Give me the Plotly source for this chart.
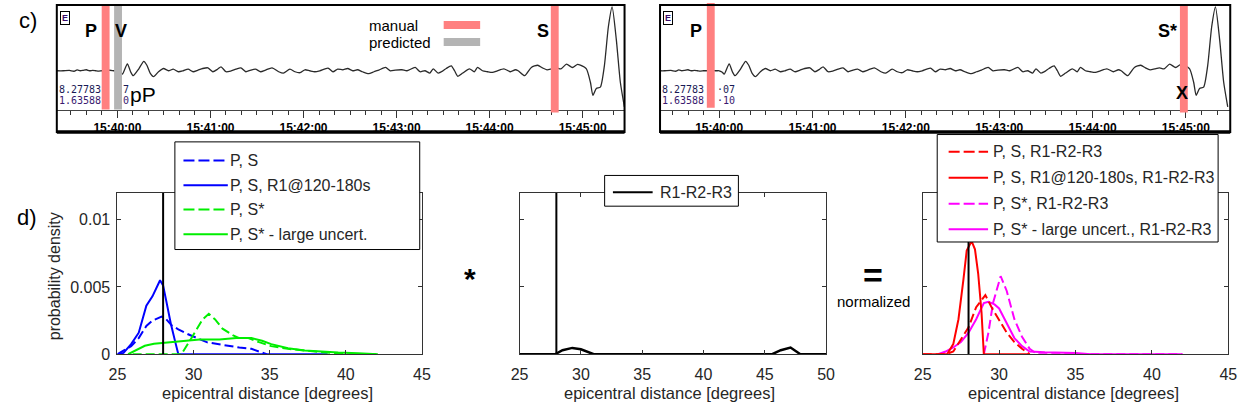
import plotly.graph_objects as go

W, H = 1256, 419


def fx(p):
    return p / W


def fy(p):
    return 1 - p / H


# ============================ data ============================
# seismogram: seconds after 15:40:00 and trace amplitude (arbitrary units)
seis_t = [-39, -35, -31, -28, -26, -24, -22, -20, -18, -16,
          -14, -12, -10, -8, -5, -2, 0, 2, 3.2, 6.4,
          8.5, 10.2, 13.8, 17, 19, 21.2, 23.3, 26.5, 29.7, 32.9,
          36, 39.3, 42.4, 45.6, 48.8, 52, 55, 58.3, 61.5, 64.6,
          66.8, 70, 73, 76.4, 79.6, 82.8, 86, 89, 92.3, 95.5,
          99.7, 104, 107, 111.2, 114.5, 117.7, 120.9, 124, 127.3, 130.5,
          135.8, 139, 142, 145.3, 148.5, 151.7, 154.8, 158, 162, 165.4,
          168.6, 172.9, 176, 179.2, 183.5, 186.7, 192, 195.1, 198.3, 201.5,
          203.6, 206.8, 210, 212, 215.3, 217.4, 219.5, 222.7, 227, 230.1,
          232.2, 235.4, 238.6, 241.8, 245, 249.2, 253.4, 256.6, 258.4, 262.6,
          266.9, 271, 274, 277, 280, 283, 286, 289.6, 293.4, 296.7,
          298.5, 302.4, 305, 306.6, 308.8, 311.4, 314, 316.6, 319, 321.7,
          324.3, 326.9]
seis_amp = [0, 0, 0.3, -0.5, 0.8, 0, 0.5, 1, 0, 0.3,
            0, -0.3, 0, 0, 0.5, 0, 0, -1.5, -3.4, 7,
            -1, -5, 2, 9.6, 5.6, -2.7, -6, -1, 2.3, 0,
            1.6, -1, 0, 1.6, -1, 0.7, 2.3, 3, -1, 1.6,
            4, -1, -0.3, 1.6, 3, -1, 0.7, 1.6, -1, 0.7,
            3, -1, -2.5, 1.7, -1, -2, 1, 0, -1, 0,
            2.7, -1, 1.7, 1, 2.3, 0, 1, -1, -3, -1,
            0.7, 3.4, 0, 0.7, 1, 0, 3.4, -1, 0, -2.3,
            2, -2.3, 0, 2.3, 5, 0, -5.6, -2.3, 2, -1,
            3.4, 0, -1, -1.7, 0, 2, -1, 1, 0, -5,
            3.4, 5.6, 3, 1, 2, 3, 2, 6.7, 3.3, 6.5,
            5.7, 2, -11.7, -25, -18, -16.7, 5, 45, 65, 31.7,
            -11.7, -36.7]

time_tick_s = [0, 60, 120, 180, 240, 300]
time_tick_labels = ["15:40:00", "15:41:00", "15:42:00", "15:43:00", "15:44:00", "15:45:00"]

left_manual_P = -7.6
left_predicted_P = 0.4
left_manual_S = 282.0
right_manual_P = -5.4
right_manual_S_star = 298.7

true_distance = 28.0

# d) left panel: probability densities
ps_x = [25, 25.9, 26.4, 26.9, 27.3, 27.9, 28.2, 28.6, 29.0, 29.6, 30.9, 32.2, 33.0, 33.8, 34.5, 34.8]
ps_y = [0, 0.0006, 0.0012, 0.0021, 0.0025, 0.0028, 0.0026, 0.0021, 0.00185, 0.0015, 0.00088, 0.00063,
        0.0005, 0.0004, 0.00015, 0]
psr1_x = [25, 25.4, 25.9, 26.4, 26.9, 27.3, 27.8, 28.0, 28.2, 28.5, 28.8, 29.0, 38.8]
psr1_y = [0, 0.0001, 0.00075, 0.0016, 0.0036, 0.0043, 0.0055, 0.0051, 0.004, 0.0023, 0.0009, 0, 0]
pss_x = [26.0, 29.2, 29.7, 30.2, 30.6, 31.0, 31.4, 31.9, 32.6, 33.0, 33.6, 34.3, 35.1, 36.2, 37.3, 38.4,
         39.5, 40.1, 42.0]
pss_y = [0, 0, 0.0009, 0.0018, 0.0026, 0.003, 0.0026, 0.0019, 0.0014, 0.0012, 0.0012, 0.0009, 0.0006,
         0.0004, 0.00025, 0.00015, 0.00007, 0, 0]
pssl_x = [25.7, 26.1, 26.8, 27.4, 28.3, 29.3, 30.4, 31.7, 32.8, 33.8, 34.5, 35.1, 36.2, 37.3, 38.4, 39.5,
          40.8, 42.1]
pssl_y = [0, 0.00024, 0.00063, 0.00078, 0.00088, 0.001, 0.0011, 0.0011, 0.0012, 0.0012, 0.001, 0.00075,
          0.00044, 0.00027, 0.00017, 0.00012, 0.00007, 0]

# d) middle panel: R1-R2-R3
r123_x = [25, 27.9, 28.5, 29.3, 30.0, 30.5, 31.05, 45.6, 46.3, 47.1, 47.6, 47.9, 50]
r123_y = [0, 0, 0.0003, 0.00047, 0.00037, 0.0002, 0, 0, 0.0003, 0.0005, 0.0002, 0, 0]

# d) right panel: normalized products
ps_r_x = [25, 26.5, 27.0, 27.5, 28.0, 28.5, 29.1, 29.5, 30.0, 30.5, 31.0, 31.5, 32.0]
ps_r_y = [0, 0, 0.0002, 0.0011, 0.002, 0.0035, 0.0044, 0.0035, 0.0026, 0.0016, 0.0009, 0.0004, 0]
psr1_r_x = [25, 26.6, 27.0, 27.34, 27.66, 27.88, 28.2, 28.42, 28.63, 28.85, 29.0, 32.0]
psr1_r_y = [0, 0, 0.00075, 0.0026, 0.0055, 0.0077, 0.0084, 0.0078, 0.006, 0.0031, 0, 0]
pss_r_x = [29.0, 29.3, 29.6, 30.1, 30.5, 31.0, 31.5, 32.0, 32.5, 42.0]
pss_r_y = [0, 0.0016, 0.0038, 0.0058, 0.0047, 0.0026, 0.0013, 0.0004, 0, 0]
pssl_r_x = [26.0, 26.5, 27.0, 27.5, 28.0, 28.5, 29.0, 29.3, 29.7, 30.0, 30.5, 31.0, 31.5, 32.0, 33.0,
            35.0, 36.0, 42.0]
pssl_r_y = [0, 0.0002, 0.0005, 0.0009, 0.0016, 0.0026, 0.0038, 0.0039, 0.0037, 0.0034, 0.0023, 0.0012,
            0.0006, 0.0002, 0.00015, 0.0001, 0, 0]

dens_ticks = [0, 0.005, 0.01]
dens_tick_labels = ["0", "0.005", "0.01"]
dist_ticks_a = [25, 30, 35, 40, 45]
dist_ticks_b = [25, 30, 35, 40, 45, 50]

legend1_labels = ["P, S", "P, S, R1@120-180s", "P, S*", "P, S* - large uncert."]
legend2_labels = ["R1-R2-R3"]
legend3_labels = ["P, S, R1-R2-R3", "P, S, R1@120-180s, R1-R2-R3", "P, S*, R1-R2-R3",
                  "P, S* - large uncert., R1-R2-R3"]

# ============================ styles / geometry ============================
FONT = "Liberation Sans"
BLUE, GREEN, RED, MAG = "#0000ff", "#00ee00", "#ff0000", "#ff00ff"
DASH = "9px,4px"
PICK_RED = "rgb(255,128,128)"
PICK_GRAY = "rgb(180,180,180)"
TEXT_GRAY = "#262626"

# seismogram frames (px)
TL_X0, TL_X1 = 48.5, 624.5
TR_X0, TR_X1 = 660.5, 1239.0
S_TOP, S_AXIS, S_BOT = 5, 112.5, 135
TL_ZERO, TL_PPM = 110.0, 94.4
TR_ZERO, TR_PPM = 720.5, 94.7


def trange(x0, x1, zero, ppm):
    s = ppm / 60.0
    return [(x0 - zero) / s, (x1 - zero) / s]


# d) panels (px)
D_TOP, D_BOT = 197, 362
P1 = (110, 419)
P2 = (518, 829)
P3 = (927, 1237)
DENS_MAX = 0.012

fig = go.Figure()

# ---- seismograms ----
for xa, ya in (("x", "y"), ("x2", "y2")):
    fig.add_trace(go.Scatter(x=seis_t, y=seis_amp, xaxis=xa, yaxis=ya, mode="lines",
                             line=dict(color="#2a2a2a", width=1.3, shape="spline", smoothing=0.6),
                             hoverinfo="skip", showlegend=False))

# ---- d) left ----
fig.add_trace(go.Scatter(x=ps_x, y=ps_y, xaxis="x3", yaxis="y3", mode="lines",
                         line=dict(color=BLUE, width=2, dash=DASH), showlegend=False))
fig.add_trace(go.Scatter(x=psr1_x, y=psr1_y, xaxis="x3", yaxis="y3", mode="lines",
                         line=dict(color=BLUE, width=2), showlegend=False))
fig.add_trace(go.Scatter(x=pssl_x, y=pssl_y, xaxis="x3", yaxis="y3", mode="lines",
                         line=dict(color=GREEN, width=2), showlegend=False))
fig.add_trace(go.Scatter(x=pss_x, y=pss_y, xaxis="x3", yaxis="y3", mode="lines",
                         line=dict(color=GREEN, width=2, dash=DASH), showlegend=False))
# ---- d) middle ----
fig.add_trace(go.Scatter(x=r123_x, y=r123_y, xaxis="x4", yaxis="y4", mode="lines",
                         line=dict(color="black", width=2.5), showlegend=False))
# ---- d) right ----
fig.add_trace(go.Scatter(x=pssl_r_x, y=pssl_r_y, xaxis="x5", yaxis="y5", mode="lines",
                         line=dict(color=MAG, width=2), showlegend=False))
fig.add_trace(go.Scatter(x=pss_r_x, y=pss_r_y, xaxis="x5", yaxis="y5", mode="lines",
                         line=dict(color=MAG, width=2, dash=DASH), showlegend=False))
fig.add_trace(go.Scatter(x=ps_r_x, y=ps_r_y, xaxis="x5", yaxis="y5", mode="lines",
                         line=dict(color=RED, width=2, dash=DASH), showlegend=False))
fig.add_trace(go.Scatter(x=psr1_r_x, y=psr1_r_y, xaxis="x5", yaxis="y5", mode="lines",
                         line=dict(color=RED, width=2), showlegend=False))

# true distance lines
for xa, ya in (("x3", "y3"), ("x4", "y4"), ("x5", "y5")):
    fig.add_trace(go.Scatter(x=[true_distance, true_distance], y=[0, DENS_MAX], xaxis=xa, yaxis=ya,
                             mode="lines", line=dict(color="black", width=2), showlegend=False))

# ============================ axes ============================
seis_x_common = dict(showgrid=False, zeroline=False, showline=True, linecolor="#444", linewidth=1,
                     ticks="outside", ticklen=7, tickcolor="#333", tickwidth=1,
                     tickmode="array", tickvals=time_tick_s, ticktext=time_tick_labels,
                     tickfont=dict(family=FONT, size=12, color="black", weight="bold"),
                     minor=dict(dtick=10, tick0=0, ticklen=4, ticks="outside", tickcolor="#333",
                                tickwidth=1, showgrid=False),
                     fixedrange=True)
seis_y_common = dict(range=[-40, 67], showgrid=False, zeroline=False, showline=False,
                     showticklabels=False, ticks="", fixedrange=True,
                     domain=[fy(S_AXIS), fy(S_TOP)])

d_x_common = dict(showgrid=False, zeroline=False, showline=True, mirror="ticks", linecolor="#333",
                  linewidth=1, ticks="inside", ticklen=4, tickcolor="#333", tickmode="array",
                  tickfont=dict(family=FONT, size=16, color=TEXT_GRAY), fixedrange=True,
                  ticklabelstandoff=6)
d_y_common = dict(showgrid=False, zeroline=False, showline=True, mirror="ticks", linecolor="#333",
                  linewidth=1, ticks="inside", ticklen=4, tickcolor="#333", tickmode="array",
                  tickvals=dens_ticks, ticktext=dens_tick_labels, range=[0, DENS_MAX],
                  tickfont=dict(family=FONT, size=16, color=TEXT_GRAY), fixedrange=True,
                  ticklabelstandoff=3,
                  domain=[fy(D_BOT), fy(D_TOP)])

fig.update_layout(
    xaxis=dict(domain=[fx(TL_X0), fx(TL_X1)], anchor="y",
               range=trange(TL_X0, TL_X1, TL_ZERO, TL_PPM), **seis_x_common),
    yaxis=dict(anchor="x", **seis_y_common),
    xaxis2=dict(domain=[fx(TR_X0), fx(TR_X1)], anchor="y2",
                range=trange(TR_X0, TR_X1, TR_ZERO, TR_PPM), **seis_x_common),
    yaxis2=dict(anchor="x2", **seis_y_common),
    xaxis3=dict(domain=[fx(P1[0]), fx(P1[1])], anchor="y3", range=[25, 45], tickvals=dist_ticks_a,
                **d_x_common),
    yaxis3=dict(anchor="x3", showticklabels=True, **d_y_common),
    xaxis4=dict(domain=[fx(P2[0]), fx(P2[1])], anchor="y4", range=[25, 50], tickvals=dist_ticks_b,
                **d_x_common),
    yaxis4=dict(anchor="x4", showticklabels=False, **d_y_common),
    xaxis5=dict(domain=[fx(P3[0]), fx(P3[1])], anchor="y5", range=[25, 45], tickvals=dist_ticks_a,
                **d_x_common),
    yaxis5=dict(anchor="x5", showticklabels=False, **d_y_common),
)

# ============================ shapes ============================
shapes = []


def band(xref, t, ppm, color, ytop, ybot, width_px=8):
    hw = width_px / 2 / (ppm / 60.0)
    return dict(type="rect", xref=xref, yref="paper", x0=t - hw, x1=t + hw, y0=fy(ybot), y1=fy(ytop),
                fillcolor=color, line=dict(width=0), layer="above")


shapes.append(band("x", left_manual_P, TL_PPM, PICK_RED, S_TOP, 112))
shapes.append(band("x", left_predicted_P, TL_PPM, PICK_GRAY, S_TOP, 112))
shapes.append(band("x", left_manual_S, TL_PPM, PICK_RED, S_TOP, 115))
shapes.append(band("x2", right_manual_P, TR_PPM, PICK_RED, 3, 110))
shapes.append(band("x2", right_manual_S_star, TR_PPM, PICK_RED, S_TOP, 115))

# seismogram frames
for x0, x1 in ((TL_X0, TL_X1), (TR_X0, TR_X1)):
    shapes.append(dict(type="rect", xref="paper", yref="paper", x0=fx(x0), x1=fx(x1), y0=fy(S_BOT),
                       y1=fy(S_TOP), line=dict(color="black", width=2), layer="above"))
    shapes.append(dict(type="line", xref="paper", yref="paper", x0=fx(x0), x1=fx(x1), y0=fy(S_BOT),
                       y1=fy(S_BOT), line=dict(color="black", width=3.5), layer="above"))

# pick legend bars (top-left)
shapes.append(dict(type="line", xref="paper", yref="paper", x0=fx(441), x1=fx(478), y0=fy(25.5),
                   y1=fy(25.5), line=dict(color=PICK_RED, width=8), layer="above"))
shapes.append(dict(type="line", xref="paper", yref="paper", x0=fx(441), x1=fx(478), y0=fy(43),
                   y1=fy(43), line=dict(color=PICK_GRAY, width=8), layer="above"))

annotations = []


def txt(x, y, s, size, color="black", bold=False, xanchor="center", yanchor="middle",
        xref="paper", yref="paper", xshift=0, yshift=0, angle=0, family=FONT):
    return dict(x=fx(x) if xref == "paper" else x,
                y=fy(y) if yref == "paper" else y,
                xref=xref, yref=yref, text=s, showarrow=False, textangle=angle,
                font=dict(family=family, size=size, color=color, weight="bold" if bold else "normal"),
                xanchor=xanchor, yanchor=yanchor, xshift=xshift, yshift=yshift, borderpad=0)


def legend(box, sample_x, text_x, ys, items, size=16):
    x0, y0, x1, y1 = box
    shapes.append(dict(type="rect", xref="paper", yref="paper", x0=fx(x0), x1=fx(x1), y0=fy(y1),
                       y1=fy(y0), fillcolor="white", line=dict(color="black", width=1), layer="above"))
    for yy, (label, color, dash) in zip(ys, items):
        ln = dict(color=color, width=2)
        if dash:
            ln["dash"] = "11px,4px"
        shapes.append(dict(type="line", xref="paper", yref="paper", x0=fx(sample_x[0]), x1=fx(sample_x[1]),
                           y0=fy(yy), y1=fy(yy), line=ln, layer="above"))
        annotations.append(txt(text_x, yy, label, size, color=TEXT_GRAY, xanchor="left"))


legend((168.3, 145, 416.7, 255), (177, 222), 223, [164, 189.3, 214, 239.3],
       [(legend1_labels[0], BLUE, True), (legend1_labels[1], BLUE, False),
        (legend1_labels[2], GREEN, True), (legend1_labels[3], GREEN, False)])
legend((604.3, 179.3, 740, 210.7), (612.7, 653), 659, [196.5],
       [(legend2_labels[0], "black", False)])
legend((941.7, 137.5, 1226.7, 247.3), (953.3, 993.3), 997, [155, 181.7, 208.3, 234.3],
       [(legend3_labels[0], RED, True), (legend3_labels[1], RED, False),
        (legend3_labels[2], MAG, True), (legend3_labels[3], MAG, False)])

# ============================ text ============================
annotations += [
    txt(19, 21, "c)", 22),
    txt(18, 222, "d)", 22),
    # top-left seismogram
    dict(x=fx(57), y=fy(18.5), xref="paper", yref="paper", text="E", showarrow=False,
         font=dict(family=FONT, size=9, color="#3a0a6a", weight="bold"), bordercolor="black",
         borderwidth=1, borderpad=1, bgcolor="white", xanchor="center", yanchor="middle"),
    txt(left_manual_P, 32, "P", 18, bold=True, xref="x", xshift=-14.5),
    txt(left_predicted_P, 32, "V", 18, bold=True, xref="x", xshift=3),
    txt(left_manual_S, 32, "S", 18, bold=True, xref="x", xshift=-12),
    txt(left_predicted_P, 97, "pP", 21, xref="x", xshift=25),
    txt(50, 91, "8.27783", 10, color="#1a1a55", xanchor="left", family="DejaVu Sans Mono"),
    txt(50, 103, "1.63588", 10, color="#3a1a70", xanchor="left", family="DejaVu Sans Mono"),
    txt(115, 91, "7", 10, color="#1a1a55", xanchor="left", family="DejaVu Sans Mono"),
    txt(115, 103, "0", 10, color="#3a1a70", xanchor="left", family="DejaVu Sans Mono"),
    txt(364, 26, "manual", 15, xanchor="left"),
    txt(364, 43, "predicted", 15, xanchor="left"),
    # top-right seismogram
    dict(x=fx(669), y=fy(18.5), xref="paper", yref="paper", text="E", showarrow=False,
         font=dict(family=FONT, size=9, color="#3a0a6a", weight="bold"), bordercolor="black",
         borderwidth=1, borderpad=1, bgcolor="white", xanchor="center", yanchor="middle"),
    txt(right_manual_P, 32, "P", 18, bold=True, xref="x2", xshift=-15),
    txt(right_manual_S_star, 32, "S*", 18, bold=True, xref="x2", xshift=-16),
    txt(right_manual_S_star, 95, "X", 18, bold=True, xref="x2", xshift=-2),
    txt(661.5, 91, "8.27783", 10, color="#1a1a55", xanchor="left", family="DejaVu Sans Mono"),
    txt(661.5, 103, "1.63588", 10, color="#3a1a70", xanchor="left", family="DejaVu Sans Mono"),
    txt(717, 91, "·07", 10, color="#1a1a55", xanchor="left", family="DejaVu Sans Mono"),
    txt(717, 103, "·10", 10, color="#3a1a70", xanchor="left", family="DejaVu Sans Mono"),
    # d) axis labels
    txt(47, 282, "probability density", 16, color=TEXT_GRAY, angle=-90),
    txt(262, 402, "epicentral distance [degrees]", 16.5, color=TEXT_GRAY),
    txt(670, 402, "epicentral distance [degrees]", 16.5, color=TEXT_GRAY),
    txt(1080, 402, "epicentral distance [degrees]", 16.5, color=TEXT_GRAY),
    txt(468, 285, "*", 30, bold=True),
    txt(877, 281, "=", 34, bold=True),
    txt(877, 308, "normalized", 15),
]

fig.update_layout(
    width=W, height=H, autosize=False,
    margin=dict(l=0, r=0, t=0, b=0),
    paper_bgcolor="white", plot_bgcolor="white",
    showlegend=False,
    shapes=shapes, annotations=annotations,
    font=dict(family=FONT),
)

fig.write_html("out.html")
